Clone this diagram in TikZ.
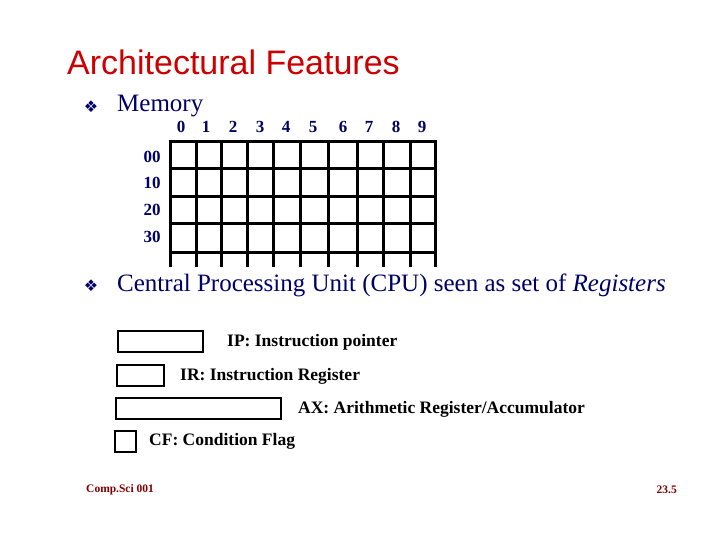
\documentclass[tikz,border=0pt]{standalone}
\usepackage{fontspec}
\setmainfont{Liberation Serif}
\newfontfamily\tsans{Liberation Sans}
\newfontfamily\djvfont{DejaVu Sans}
\definecolor{navy}{HTML}{000066}
\definecolor{ttl}{HTML}{CC0000}
\definecolor{foot}{HTML}{800000}
\begin{document}
\begin{tikzpicture}[x=1pt,y=-1pt,
  lab/.style={text=navy,font=\bfseries\fontsize{17}{17}\selectfont,inner sep=0},
  reg/.style={draw=black,line width=2.8pt},
  rtxt/.style={anchor=west,font=\bfseries\fontsize{17.5}{18}\selectfont,inner sep=0},
  bul/.style={text=navy,font=\djvfont\fontsize{16}{16}\selectfont,inner sep=0}]
\useasboundingbox (0,0) rectangle (720,540);
\node[anchor=west,text=ttl,font=\tsans\fontsize{34}{34}\selectfont,inner sep=0] (title) at (67,62) {Architectural Features};
\node[bul] (b1) at (91,107) {❖};
\node[anchor=west,text=navy,font=\fontsize{25}{25}\selectfont,inner sep=0] (mem) at (117,106) {Memory};
\node[bul] (b2) at (91,286) {❖};
\node[anchor=west,text=navy,font=\fontsize{25}{25}\selectfont,inner sep=0] (cpu) at (117,285) {Central Processing Unit (CPU) seen as set of \textit{Registers}};
% grid
\foreach \x in {170,196,221,247,273,300,328,357,383,410,435}
  \draw[line width=3pt] (\x,142) -- (\x,267);
\foreach \y in {142,169,197,224,252}
  \draw[line width=3pt] (168.5,\y) -- (436.5,\y);
\foreach \x/\t in {181/0,206/1,233/2,260/3,286/4,313/5,343/6,369/7,396/8,422/9}
  \node[lab] (c\t) at (\x,127) {\t};
\foreach \y/\t in {157/00,183/10,210/20,237/30}
  \node[lab] (r\t) at (152,\y) {\t};
% registers
\draw[reg] (118,331) rectangle (203,352);
\draw[reg] (117,365) rectangle (164,386);
\draw[reg] (116,398) rectangle (281,419);
\draw[reg] (115,431) rectangle (136,452);
\node[rtxt] (ip) at (227,342) {IP: Instruction pointer};
\node[rtxt] (ir) at (180,376) {IR: Instruction Register};
\node[rtxt] (ax) at (298,409) {AX: Arithmetic Register/Accumulator};
\node[rtxt] (cf) at (149,441) {CF: Condition Flag};
\node[anchor=west,text=foot,font=\bfseries\fontsize{11.5}{12}\selectfont,inner sep=0] (f1) at (86,490) {Comp.Sci 001};
\node[anchor=east,text=foot,font=\bfseries\fontsize{11.5}{12}\selectfont,inner sep=0] (f2) at (677,490) {23.5};
\end{tikzpicture}
\end{document}
